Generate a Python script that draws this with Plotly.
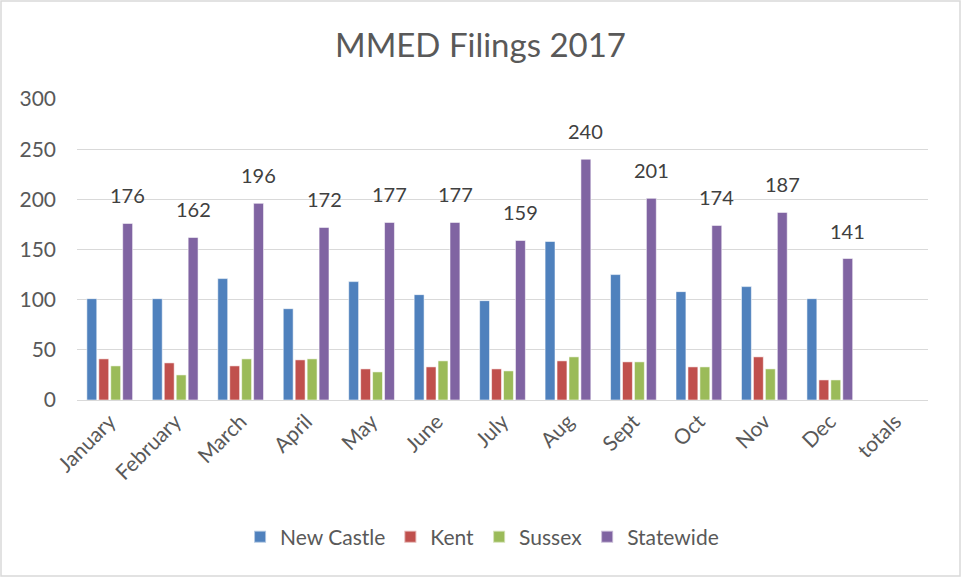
import plotly.graph_objects as go

months = ["January", "February", "March", "April", "May", "June", "July",
          "Aug", "Sept", "Oct", "Nov", "Dec", "totals"]
new_castle = [101, 101, 121, 91, 118, 105, 99, 158, 125, 108, 113, 101, None]
kent = [41, 37, 34, 40, 31, 33, 31, 39, 38, 33, 43, 20, None]
sussex = [34, 25, 41, 41, 28, 39, 29, 43, 38, 33, 31, 20, None]
statewide = [176, 162, 196, 172, 177, 177, 159, 240, 201, 174, 187, 141, None]

colors = {"New Castle": "#4F81BD", "Kent": "#C0504D",
          "Sussex": "#9BBB59", "Statewide": "#8064A2"}
FONT = "Lato, 'Liberation Sans', sans-serif"

fig = go.Figure()
for name, vals in [("New Castle", new_castle), ("Kent", kent),
                   ("Sussex", sussex), ("Statewide", statewide)]:
    fig.add_trace(go.Bar(
        name=name, x=months, y=vals,
        marker=dict(color=colors[name],
                    line=dict(color="rgba(255,255,255,0.55)", width=1)),
    ))

for m, v in zip(months, statewide):
    if v is None:
        continue
    fig.add_annotation(x=m, y=v, text=str(v), showarrow=False,
                       xshift=18, yanchor="bottom", yshift=14,
                       font=dict(family=FONT, size=20, color="#404040"))

L, R, T, B = 77, 33, 99, 177
pw, ph = 961 - L - R, 577 - T - B
fig.add_shape(type="rect", xref="paper", yref="paper",
              x0=-(L - 1) / pw, x1=1 + (R - 1) / pw,
              y0=-(B - 1) / ph, y1=1 + (T - 1) / ph,
              line=dict(color="#D9D9D9", width=1.5), layer="below")

fig.update_layout(
    width=961, height=577,
    margin=dict(l=L, r=R, t=T, b=B),
    paper_bgcolor="white", plot_bgcolor="white",
    barmode="group", bargap=0.27, bargroupgap=0.17,
    title=dict(text="MMED Filings 2017", x=0.5, xanchor="center",
               y=1 - 45 / 577, yanchor="middle", yref="container",
               font=dict(family=FONT, size=33, color="#595959")),
    font=dict(family=FONT, color="#595959"),
    showlegend=True,
    legend=dict(orientation="h", x=0.476, xanchor="center", y=-(537 - 400) / ph,
                yanchor="middle", font=dict(family=FONT, size=21, color="#595959"),
                itemsizing="constant", traceorder="normal"),
    xaxis=dict(type="category", tickangle=-45, tickfont=dict(size=21, color="#595959"),
               showline=True, linecolor="#D9D9D9", linewidth=1, ticks=""),
    yaxis=dict(range=[0, 300], dtick=50, showgrid=True, gridcolor="#D9D9D9",
               gridwidth=1, zeroline=False, tickfont=dict(size=21, color="#595959"),
               ticklabelstandoff=20, showline=False),
)

fig.write_html("out.html", config={"displayModeBar": False},
               post_script="document.body.style.margin='0';document.body.style.overflow='hidden';")
